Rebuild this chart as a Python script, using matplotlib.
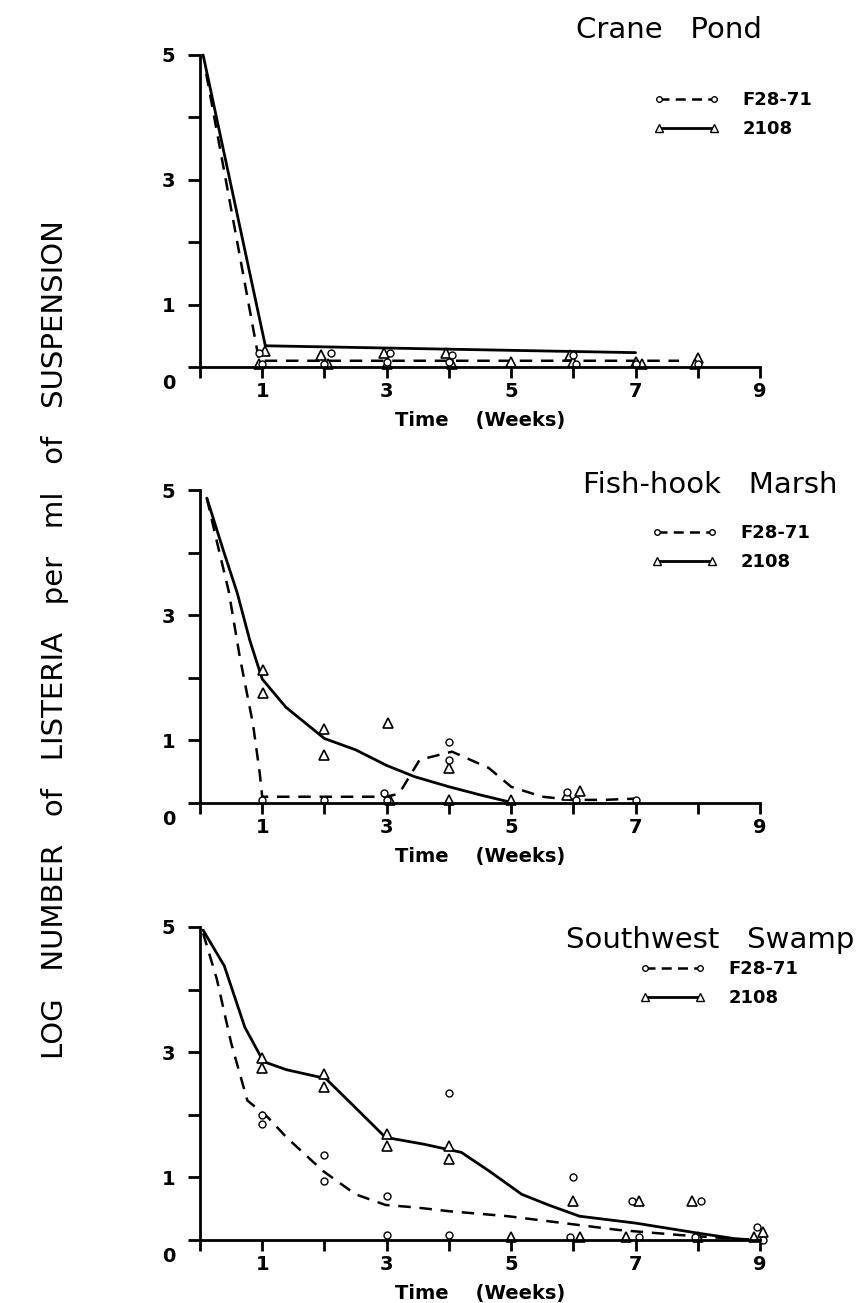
import matplotlib
matplotlib.use("Agg")
import matplotlib.pyplot as plt
from matplotlib.lines import Line2D

# ---- data ----
panel_names = ["Crane Pond", "Fish-hook Marsh", "Southwest Swamp"]
strain_labels = ["F28-71", "2108"]

# Crane Pond
cp_f28_pts_x = [0.95, 1.0, 2.1, 2.0, 3.05, 3.0, 4.05, 4.0, 6.0, 6.05, 7.0, 8.0]
cp_f28_pts_y = [0.22, 0.05, 0.22, 0.05, 0.22, 0.08, 0.2, 0.08, 0.2, 0.05, 0.05, 0.05]
cp_2108_pts_x = [1.05, 0.95, 1.95, 2.05, 2.95, 3.0, 3.95, 4.05, 5.0, 5.95, 6.0, 7.0, 7.1, 8.0, 7.95]
cp_2108_pts_y = [0.25, 0.05, 0.2, 0.05, 0.22, 0.05, 0.22, 0.05, 0.08, 0.2, 0.08, 0.08, 0.05, 0.15, 0.05]
cp_f28_line_x = [0.1, 0.95, 1.0, 7.7]
cp_f28_line_y = [4.7, 0.1, 0.1, 0.1]
cp_2108_line_x = [0.05, 1.05, 7.0]
cp_2108_line_y = [5.0, 0.34, 0.23]

# Fish-hook Marsh
fh_f28_pts_x = [1.0, 2.0, 2.95, 3.0, 4.0, 4.0, 5.9, 6.05, 7.0]
fh_f28_pts_y = [0.05, 0.05, 0.16, 0.05, 0.98, 0.69, 0.17, 0.05, 0.05]
fh_2108_pts_x = [1.02, 1.02, 2.0, 2.0, 3.02, 3.05, 4.0, 4.0, 5.0, 5.9, 6.1]
fh_2108_pts_y = [2.12, 1.75, 1.19, 0.77, 1.27, 0.05, 0.56, 0.05, 0.05, 0.12, 0.19]
fh_f28_line_x = [0.11, 0.27, 0.46, 0.64, 0.85, 0.96, 1.0, 3.0, 3.2, 3.53, 4.05, 4.64, 5.0, 5.5, 6.0, 6.5, 7.0]
fh_f28_line_y = [4.87, 4.18, 3.39, 2.33, 1.27, 0.48, 0.1, 0.1, 0.15, 0.69, 0.82, 0.56, 0.26, 0.1, 0.05, 0.05, 0.07]
fh_2108_line_x = [0.11, 0.38, 0.6, 0.8, 1.0, 1.38, 2.0, 2.5, 3.0, 3.45, 4.0, 4.5, 5.0]
fh_2108_line_y = [4.87, 4.02, 3.35, 2.6, 1.98, 1.53, 1.03, 0.85, 0.6, 0.42, 0.26, 0.13, 0.01]

# Southwest Swamp
sw_f28_pts_x = [1.0, 1.0, 2.0, 2.0, 3.0, 3.0, 4.0, 4.0, 5.95, 6.0, 6.95, 7.05, 8.05, 7.95, 8.95, 9.05]
sw_f28_pts_y = [1.85, 2.0, 1.35, 0.95, 0.7, 0.08, 2.35, 0.08, 0.05, 1.0, 0.62, 0.05, 0.62, 0.05, 0.2, 0.0]
sw_2108_pts_x = [1.0, 1.0, 2.0, 2.0, 3.0, 3.0, 4.0, 4.0, 5.0, 6.0, 6.1, 7.05, 6.85, 7.9, 8.0, 9.05, 8.9]
sw_2108_pts_y = [2.9, 2.75, 2.65, 2.45, 1.7, 1.5, 1.5, 1.3, 0.05, 0.62, 0.05, 0.62, 0.05, 0.63, 0.05, 0.12, 0.05]
sw_f28_line_x = [0.05, 0.27, 0.5, 0.76, 1.09, 1.39, 1.98, 2.5, 2.98, 3.47, 4.0, 4.95, 5.84, 6.73, 7.7, 8.44, 9.0]
sw_f28_line_y = [4.9, 4.17, 3.15, 2.23, 1.96, 1.64, 1.1, 0.73, 0.56, 0.52, 0.46, 0.38, 0.27, 0.16, 0.08, 0.03, 0.0]
sw_2108_line_x = [0.05, 0.39, 0.72, 1.02, 1.39, 2.02, 2.43, 2.98, 3.6, 4.2, 4.65, 5.17, 5.6, 6.1, 7.0, 7.5, 8.0, 8.74]
sw_2108_line_y = [4.95, 4.38, 3.4, 2.85, 2.72, 2.58, 2.18, 1.64, 1.53, 1.4, 1.1, 0.73, 0.56, 0.38, 0.27, 0.19, 0.11, 0.0]

x_ticks = [0, 1, 2, 3, 4, 5, 6, 7, 8, 9]
x_tick_labels = ["", "1", "", "3", "", "5", "", "7", "", "9"]
y_ticks = [0, 1, 2, 3, 4, 5]
y_tick_labels = ["", "1", "", "3", "", "5"]

panels = [
    dict(f28_pts=(cp_f28_pts_x, cp_f28_pts_y), b_pts=(cp_2108_pts_x, cp_2108_pts_y),
         f28_line=(cp_f28_line_x, cp_f28_line_y), b_line=(cp_2108_line_x, cp_2108_line_y)),
    dict(f28_pts=(fh_f28_pts_x, fh_f28_pts_y), b_pts=(fh_2108_pts_x, fh_2108_pts_y),
         f28_line=(fh_f28_line_x, fh_f28_line_y), b_line=(fh_2108_line_x, fh_2108_line_y)),
    dict(f28_pts=(sw_f28_pts_x, sw_f28_pts_y), b_pts=(sw_2108_pts_x, sw_2108_pts_y),
         f28_line=(sw_f28_line_x, sw_f28_line_y), b_line=(sw_2108_line_x, sw_2108_line_y)),
]

# axes boxes in pixels (left, top, right, bottom)
W, H = 868, 1303
boxes = [(200, 55, 760, 367), (200, 490, 760, 803), (200, 927, 760, 1240)]
title_pos = [(576, 30), (583, 485), (566, 940)]
legend_pos = [(645, 82), (643, 515), (631, 951)]

fig = plt.figure(figsize=(W / 100, H / 100), dpi=100)
fig.patch.set_facecolor("white")

for i, p in enumerate(panels):
    x0, y0, x1, y1 = boxes[i]
    ax = fig.add_axes([x0 / W, 1 - y1 / H, (x1 - x0) / W, (y1 - y0) / H])
    ax.set_xlim(0, 9)
    ax.set_ylim(0, 5)
    for s in ["top", "right"]:
        ax.spines[s].set_visible(False)
    for s in ["left", "bottom"]:
        ax.spines[s].set_linewidth(2.0)

    ax.plot(*p["b_line"], color="black", lw=2.0, solid_capstyle="round", clip_on=False)
    ax.plot(*p["f28_line"], color="black", lw=1.8, dashes=(5, 3.5), clip_on=False)
    ax.plot(*p["b_pts"], ls="none", marker="^", ms=7, mfc="white", mec="black", mew=1.2, clip_on=False)
    ax.plot(*p["f28_pts"], ls="none", marker="o", ms=5, mfc="white", mec="black", mew=1.0, clip_on=False)

    ax.set_xticks(x_ticks)
    ax.set_xticklabels(x_tick_labels, fontsize=14, fontweight="bold")
    ax.set_yticks(y_ticks)
    ax.set_yticklabels(y_tick_labels, fontsize=14, fontweight="bold")
    ax.tick_params(axis="x", direction="out", length=8, width=2, pad=3)
    ax.tick_params(axis="y", direction="out", length=9, width=2, pad=9)
    ax.text(-0.5, -0.27, "0", fontsize=14, fontweight="bold", ha="center", va="center", clip_on=False)
    ax.set_xlabel("Time    (Weeks)", fontsize=14, fontweight="bold", labelpad=7)

    tx, ty = title_pos[i]
    fig.text(tx / W, 1 - ty / H, panel_names[i].replace(" ", "   "), fontsize=21,
             ha="left", va="center")

    handles = [
        Line2D([], [], color="black", lw=1.8, dashes=(4, 2.5), marker="o", ms=4,
               mfc="white", mec="black"),
        Line2D([], [], color="black", lw=2.0, marker="^", ms=6, mfc="white", mec="black"),
    ]
    lx, ly = legend_pos[i]
    fig.legend(handles, strain_labels, loc="upper left",
               bbox_to_anchor=(lx / W, 1 - ly / H), frameon=False, numpoints=2,
               handlelength=3.6, handletextpad=1.3, labelspacing=0.6,
               prop=dict(size=13, weight="bold"), borderpad=0)

fig.text(55 / W, 1 - 640 / H, "LOG   NUMBER   of   LISTERIA   per   ml   of   SUSPENSION",
         rotation=90, fontsize=21, ha="center", va="center")

fig.savefig("out.png", dpi=100)
